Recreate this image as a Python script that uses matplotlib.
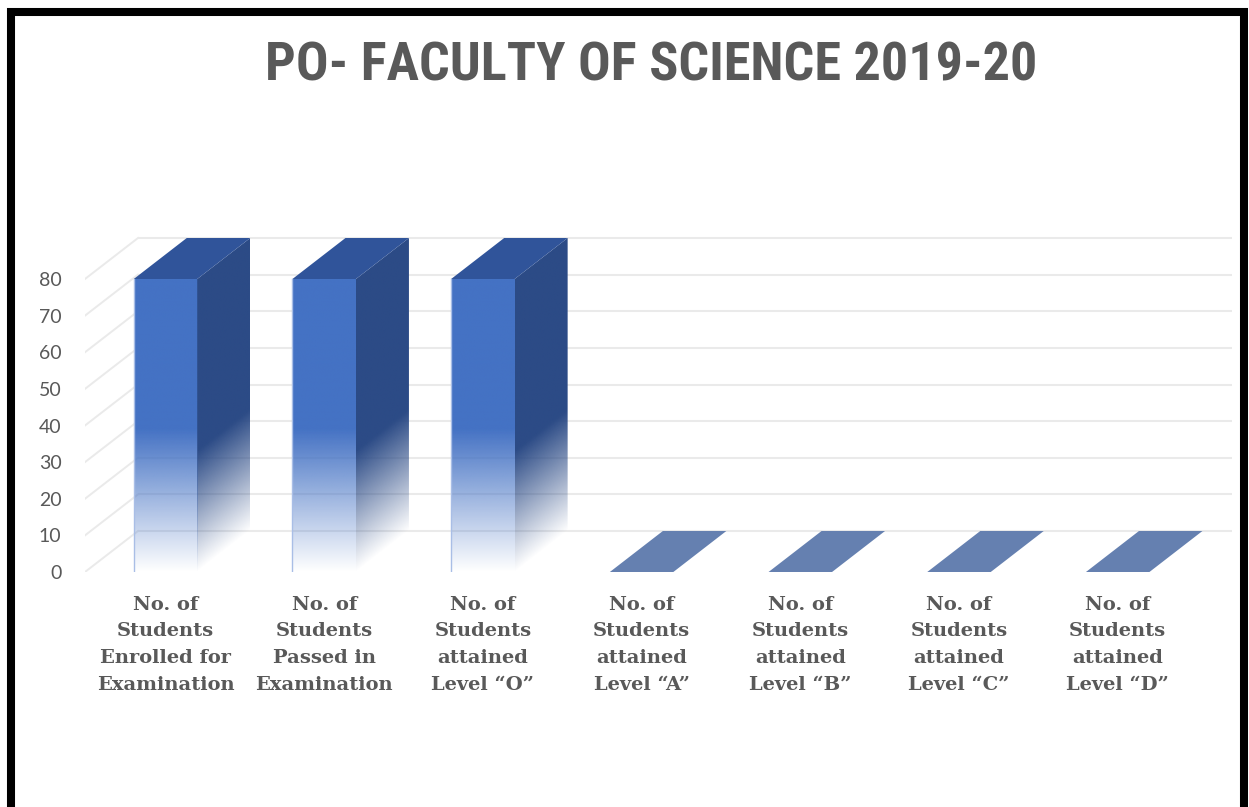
import matplotlib
matplotlib.use('Agg')
import matplotlib.pyplot as plt
import numpy as np
from matplotlib import font_manager
from matplotlib.patches import Polygon, Rectangle

# data
categories = ['No. of\nStudents\nEnrolled for\nExamination',
              'No. of\nStudents\nPassed in\nExamination',
              'No. of\nStudents\nattained\nLevel \u201cO\u201d',
              'No. of\nStudents\nattained\nLevel \u201cA\u201d',
              'No. of\nStudents\nattained\nLevel \u201cB\u201d',
              'No. of\nStudents\nattained\nLevel \u201cC\u201d',
              'No. of\nStudents\nattained\nLevel \u201cD\u201d']
students = [80, 80, 80, 0, 0, 0, 0]
yticks = [0, 10, 20, 30, 40, 50, 60, 70, 80]
title = 'PO- FACULTY OF SCIENCE 2019-20'

# narrow font for the title if there is one, else Roboto
title_font, title_size = 'Roboto', 32
for fam in ['Liberation Sans Narrow', 'Roboto Condensed', 'Noto Sans Condensed', 'Arial Narrow']:
    try:
        font_manager.findfont(font_manager.FontProperties(family=fam, weight='bold'),
                              fallback_to_default=False)
        title_font, title_size = fam, 39
        break
    except ValueError:
        pass

W, H = 1249, 807
fig = plt.figure(figsize=(W / 100, H / 100), dpi=100)

# plot area in pixels (front plane)
left, right, bottom, top = 85, 1235, 572, 230
ax = fig.add_axes([left / W, 1 - bottom / H, (right - left) / W, (bottom - top) / H])

px_x = 158.7          # pixels per category
px_y = 3.6625         # pixels per student
x0_lim = -(165.5 - left) / px_x
x1_lim = (right - 165.5) / px_x
y1_lim = (bottom - top) / px_y

DX = 53 / px_x        # depth offset
DY = 41 / px_y
BW = 0.40             # bar width
SOLID = 39            # fade height, front
SOLID_SIDE = 33       # fade height, side

front_col = np.array([0x44, 0x72, 0xC4]) / 255
side_col = np.array([0x2C, 0x4B, 0x86]) / 255
top_col = '#30549A'
zero_col = '#6580B0'
grid_col = '#EAEAEA'
txt_col = '#595959'

# back wall gridlines + side wall diagonals
x_back_end = (1232 - 165.5) / px_x
for v in yticks:
    ax.plot([x0_lim + DX, x_back_end], [v + DY, v + DY], color=grid_col, lw=1.5, zorder=1,
            solid_capstyle='butt')
    ax.plot([x0_lim, x0_lim + DX], [v, v + DY], color=grid_col, lw=1.4, zorder=1)

x = np.arange(len(categories))
for xi, v in zip(x, students):
    xl = xi - BW / 2
    if v > 0:
        # front face with vertical fade
        yy = np.linspace(0, v, 300)
        a = np.clip(yy / SOLID, 0, 1)
        img = np.zeros((300, 2, 4))
        img[..., :3] = front_col
        img[..., 3] = a[:, None]
        ax.imshow(img, extent=[xl, xl + BW, 0, v], origin='lower', aspect='auto',
                  interpolation='bilinear', zorder=3)
        ax.plot([xl, xl], [0, v], color='#A9BEE6', lw=1.0, zorder=4)

        # side face with slanted fade
        xs = xl + BW
        poly = Polygon([(xs, 0), (xs + DX, DY), (xs + DX, v + DY), (xs, v)],
                       closed=True, fill=False, edgecolor='none')
        ax.add_patch(poly)
        nx, ny = 80, 400
        fx = np.linspace(0, 1, nx)
        fy = np.linspace(0, v + DY, ny)
        gx, gy = np.meshgrid(fx, fy)
        a = np.clip((gy - gx * DY) / SOLID_SIDE, 0, 1)
        img = np.zeros((ny, nx, 4))
        img[..., :3] = side_col
        img[..., 3] = a
        im = ax.imshow(img, extent=[xs, xs + DX, 0, v + DY], origin='lower', aspect='auto',
                       interpolation='bilinear', zorder=3)
        im.set_clip_path(poly)

    # top face
    ax.add_patch(Polygon([(xl, v), (xl + BW, v), (xl + BW + DX, v + DY), (xl + DX, v + DY)],
                         closed=True, facecolor=top_col if v > 0 else zero_col,
                         edgecolor='none', zorder=4))

ax.set_xlim(x0_lim, x1_lim)
ax.set_ylim(0, y1_lim)
ax.set_yticks(yticks)
ax.set_xticks(x)
ax.set_xticklabels(categories, fontfamily='DejaVu Serif', fontweight='bold', fontsize=14,
                   color=txt_col, linespacing=1.62, va='top')
for lab in ax.get_yticklabels():
    lab.set_fontfamily('Lato')
    lab.set_fontsize(14)
    lab.set_color(txt_col)
ax.tick_params(axis='y', length=0, pad=17)
ax.tick_params(axis='x', length=0, pad=17)
for s in ax.spines.values():
    s.set_visible(False)
ax.patch.set_alpha(0)

fig.text(651 / W, 1 - 66 / H, title, ha='center', va='center', fontsize=title_size,
         fontweight='bold', fontfamily=title_font, color=txt_col)

# black frame around the picture
fig.patches.append(Rectangle((11 / W, -20 / H), (1244 - 11) / W, (H - 12 + 20) / H,
                             transform=fig.transFigure, fill=False, edgecolor='black',
                             lw=5.8, zorder=10))

fig.savefig('out.png', dpi=100)
